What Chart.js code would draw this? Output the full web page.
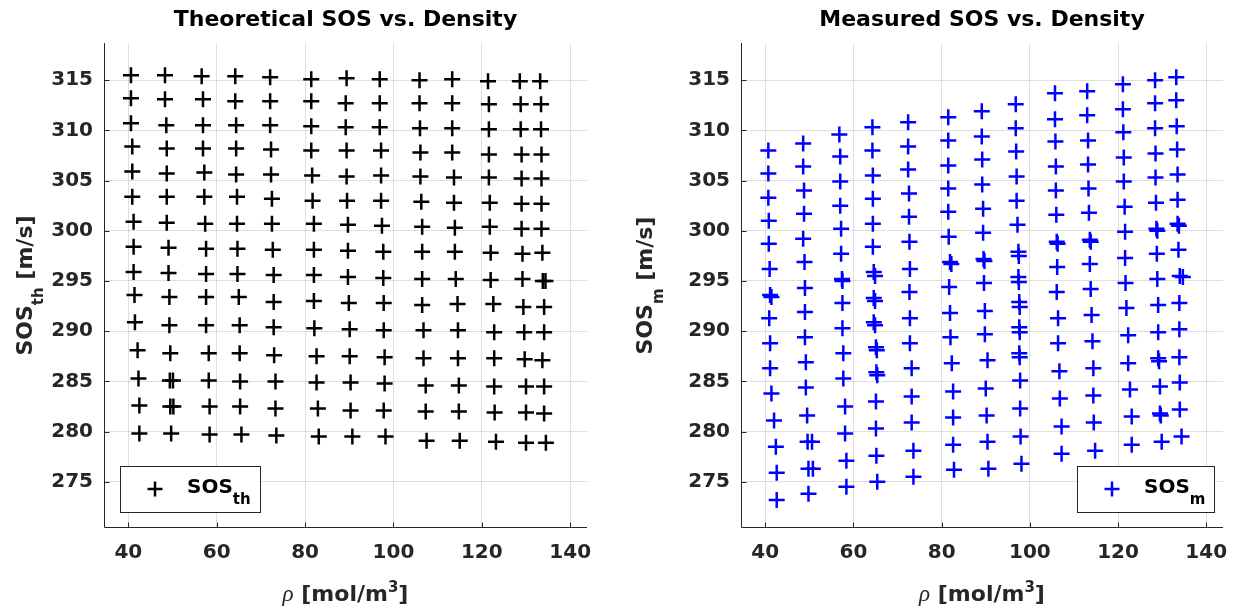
<!DOCTYPE html>
<html>
<head>
<meta charset="utf-8">
<title>SOS vs. Density</title>
<script src="https://cdn.jsdelivr.net/npm/chart.js@4.4.1/dist/chart.umd.min.js"></script>
<style>
  html, body { margin: 0; padding: 0; background: #ffffff; }
  #wrap { position: relative; width: 1239px; height: 610px; overflow: hidden; }
  canvas { position: absolute; top: 0; }
  #cTh { left: 0; }
  #cM { left: 620px; }
</style>
</head>
<body>
<div id="wrap">
  <canvas id="cTh" width="620" height="610"></canvas>
  <canvas id="cM" width="619" height="610"></canvas>
</div>
<script>
// ---- axis ticks ----
const rhoTicks = [40, 60, 80, 100, 120, 140];
const sosTicks = [275, 280, 285, 290, 295, 300, 305, 310, 315];

// ---- theoretical speed of sound: one row per temperature level ----
const thRho = [
  [40.6, 48.3, 56.6, 64.2, 72.1, 81.4, 89.4, 96.9, 105.9, 113.3, 121.4, 128.6, 133.2],
  [40.6, 48.3, 56.9, 64.2, 72.1, 81.4, 89.2, 96.9, 105.9, 113.3, 121.6, 128.8, 133.4],
  [40.6, 48.6, 56.9, 64.4, 72.1, 81.4, 89.2, 96.9, 106.0, 113.3, 121.6, 128.8, 133.4],
  [40.9, 48.7, 56.9, 64.4, 72.3, 81.4, 89.4, 97.2, 106.1, 113.3, 121.6, 129.0, 133.5],
  [40.9, 48.7, 57.2, 64.4, 72.3, 81.6, 89.4, 97.2, 106.1, 113.7, 121.6, 129.0, 133.5],
  [40.9, 48.7, 57.2, 64.6, 72.5, 81.7, 89.5, 97.2, 106.3, 113.7, 121.8, 129.0, 133.5],
  [41.2, 48.7, 57.4, 64.6, 72.5, 82.0, 89.7, 97.4, 106.5, 113.9, 121.8, 129.0, 133.5],
  [41.2, 49.1, 57.6, 64.7, 72.7, 82.0, 89.7, 97.7, 106.5, 113.9, 122.0, 129.2, 133.7],
  [41.2, 49.1, 57.6, 64.7, 72.9, 82.0, 89.7, 97.7, 106.5, 114.1, 122.0, 129.2, 133.8],
  [41.4, 49.3, 57.6, 65.0, 72.9, 82.0, 89.9, 97.8, 106.5, 114.5, 122.6, 129.4, 134.1],
  [41.5, 49.3, 57.6, 65.2, 72.9, 82.1, 90.1, 97.8, 106.8, 114.6, 122.8, 129.6, 134.1],
  [42.1, 49.5, 58.2, 65.2, 73.0, 82.6, 90.1, 98.0, 106.8, 114.6, 122.8, 129.7, 133.7],
  [42.3, 49.4, 58.2, 65.3, 73.3, 82.6, 90.3, 98.0, 107.3, 114.8, 122.8, 130.0, 134.1],
  [42.5, 49.5, 58.4, 65.3, 73.3, 82.9, 90.3, 97.8, 107.3, 114.8, 122.9, 130.0, 134.1],
  [42.5, 49.7, 58.4, 65.6, 73.5, 83.1, 90.7, 98.2, 107.5, 115.0, 123.2, 130.0, 134.5]
];
const thSos = [
  [315.5, 315.5, 315.4, 315.4, 315.3, 315.1, 315.2, 315.1, 315.0, 315.1, 314.9, 314.9, 314.9],
  [313.2, 313.1, 313.1, 312.9, 312.9, 312.9, 312.7, 312.7, 312.7, 312.7, 312.6, 312.6, 312.6],
  [310.7, 310.5, 310.5, 310.5, 310.5, 310.4, 310.3, 310.3, 310.2, 310.2, 310.1, 310.1, 310.1],
  [308.4, 308.2, 308.2, 308.2, 308.1, 308.0, 308.0, 308.0, 307.8, 307.8, 307.6, 307.6, 307.6],
  [305.9, 305.7, 305.8, 305.6, 305.6, 305.5, 305.4, 305.5, 305.4, 305.3, 305.3, 305.2, 305.2],
  [303.4, 303.4, 303.4, 303.4, 303.2, 303.0, 303.0, 303.0, 302.9, 302.8, 302.8, 302.7, 302.7],
  [300.9, 300.8, 300.7, 300.7, 300.7, 300.7, 300.6, 300.5, 300.4, 300.3, 300.4, 300.2, 300.2],
  [298.4, 298.3, 298.2, 298.2, 298.1, 298.1, 298.0, 297.9, 297.9, 297.9, 297.8, 297.7, 297.8],
  [295.9, 295.8, 295.7, 295.7, 295.6, 295.6, 295.4, 295.3, 295.2, 295.2, 295.1, 295.2, 295.0],
  [293.6, 293.4, 293.4, 293.4, 292.9, 293.0, 292.8, 292.8, 292.6, 292.7, 292.7, 292.4, 292.4],
  [290.9, 290.6, 290.6, 290.6, 290.4, 290.3, 290.2, 290.1, 290.1, 290.1, 289.9, 289.9, 289.9],
  [288.1, 287.8, 287.8, 287.8, 287.6, 287.5, 287.5, 287.4, 287.3, 287.3, 287.3, 287.2, 287.1],
  [285.3, 285.1, 285.1, 285.0, 285.0, 284.9, 284.9, 284.8, 284.6, 284.6, 284.5, 284.5, 284.5],
  [282.6, 282.5, 282.5, 282.5, 282.3, 282.3, 282.1, 282.1, 282.0, 282.0, 281.9, 281.9, 281.8],
  [279.8, 279.8, 279.7, 279.7, 279.6, 279.5, 279.5, 279.5, 279.1, 279.1, 279.0, 278.9, 278.9]
];
// repeated theoretical points
const thRhoExtra = [50.1, 50.2, 134.4];
const thSosExtra = [285.1, 282.5, 295.0];

// ---- measured speed of sound: one column per pressure level ----
const mRho = [
  [40.7, 40.7, 40.7, 40.8, 40.8, 41.0, 41.1, 40.9, 41.1, 41.1, 41.4, 42.0, 42.4, 42.6, 42.6],
  [48.6, 48.6, 48.8, 48.8, 48.6, 48.9, 49.0, 49.0, 49.0, 49.2, 49.2, 49.5, 49.6, 49.8, 49.8],
  [56.8, 57.0, 57.0, 57.0, 57.2, 57.2, 57.4, 57.5, 57.5, 57.7, 57.7, 58.1, 58.1, 58.4, 58.4],
  [64.3, 64.3, 64.4, 64.4, 64.4, 64.4, 64.6, 64.6, 64.6, 65.1, 65.2, 65.1, 65.1, 65.2, 65.4],
  [72.4, 72.4, 72.4, 72.6, 72.6, 72.7, 72.8, 72.7, 72.8, 72.8, 73.2, 73.2, 73.2, 73.6, 73.6],
  [81.5, 81.5, 81.5, 81.5, 81.5, 81.6, 81.9, 81.7, 81.9, 82.0, 82.3, 82.6, 82.6, 82.6, 82.8],
  [89.1, 89.1, 89.2, 89.2, 89.4, 89.4, 89.5, 89.6, 89.8, 89.8, 90.4, 90.0, 90.2, 90.4, 90.6],
  [96.8, 96.8, 96.9, 97.0, 97.0, 97.2, 97.4, 97.4, 97.6, 97.6, 97.6, 97.8, 97.8, 97.9, 98.1],
  [105.7, 105.7, 105.8, 105.9, 105.9, 106.0, 106.1, 106.2, 106.1, 106.4, 106.4, 106.7, 106.8, 107.2, 107.2],
  [113.0, 113.0, 113.2, 113.2, 113.3, 113.4, 113.6, 113.6, 113.8, 114.0, 114.2, 114.4, 114.4, 114.5, 114.8],
  [121.1, 121.1, 121.2, 121.3, 121.3, 121.5, 121.6, 121.6, 121.7, 121.9, 122.3, 122.3, 122.7, 123.1, 123.1],
  [128.4, 128.4, 128.4, 128.5, 128.5, 128.6, 128.7, 128.8, 128.9, 129.1, 129.1, 129.1, 129.5, 129.5, 129.9],
  [133.2, 133.2, 133.3, 133.4, 133.5, 133.5, 133.5, 133.7, 134.0, 133.9, 133.9, 133.9, 134.0, 134.0, 134.4]
];
const mSos = [
  [308.0, 305.7, 303.3, 301.0, 298.7, 296.2, 293.6, 291.3, 288.8, 286.3, 283.8, 281.1, 278.5, 275.9, 273.2],
  [308.7, 306.4, 304.0, 301.7, 299.2, 296.9, 294.3, 291.9, 289.4, 286.9, 284.4, 281.6, 279.0, 276.3, 273.8],
  [309.6, 307.4, 304.9, 302.5, 300.2, 297.7, 295.2, 292.8, 290.3, 287.8, 285.3, 282.5, 279.8, 277.1, 274.5],
  [310.3, 308.0, 305.5, 303.2, 300.7, 298.4, 295.9, 293.3, 290.9, 288.4, 285.9, 283.0, 280.3, 277.6, 275.0],
  [310.8, 308.4, 306.1, 303.7, 301.4, 298.9, 296.2, 293.9, 291.3, 288.8, 286.3, 283.5, 280.9, 278.1, 275.5],
  [311.3, 309.0, 306.5, 304.2, 301.9, 299.4, 296.9, 294.4, 291.8, 289.4, 286.8, 284.0, 281.4, 278.7, 276.2],
  [311.9, 309.4, 307.1, 304.6, 302.2, 299.8, 297.2, 294.8, 292.0, 289.7, 287.1, 284.3, 281.6, 279.0, 276.3],
  [312.6, 310.2, 307.9, 305.4, 303.0, 300.6, 297.9, 295.4, 292.9, 290.4, 287.8, 285.1, 282.3, 279.5, 276.8],
  [313.7, 311.1, 308.9, 306.4, 304.0, 301.6, 298.9, 296.4, 293.9, 291.3, 288.8, 286.0, 283.3, 280.5, 277.8],
  [313.9, 311.5, 309.0, 306.6, 304.2, 301.8, 299.1, 296.7, 294.2, 291.6, 289.0, 286.3, 283.6, 280.9, 278.1],
  [314.6, 312.1, 309.8, 307.3, 304.9, 302.4, 299.9, 297.3, 294.8, 292.3, 289.6, 286.8, 284.2, 281.5, 278.7],
  [315.0, 312.7, 310.2, 307.7, 305.3, 302.8, 300.2, 297.7, 295.2, 292.6, 289.9, 287.3, 284.5, 281.8, 279.0],
  [315.3, 313.0, 310.4, 308.1, 305.6, 303.1, 300.7, 298.1, 295.5, 292.8, 290.2, 287.4, 284.9, 282.2, 279.5]
];
// repeated measurements
const mRhoExtra = [41.4, 50.6, 50.8, 57.5, 64.9, 64.9, 64.9, 65.3, 65.4, 97.5, 97.5, 97.7, 97.7, 97.7,
                   128.9, 129.3, 129.7, 134.7, 133.8, 106.3, 113.8, 82.2, 89.7];
const mSosExtra = [293.4, 279.0, 276.3, 295.0, 295.5, 293.0, 290.6, 288.1, 285.6, 297.5, 294.9, 292.4, 289.9, 287.4,
                   300.0, 287.0, 281.6, 295.4, 300.5, 298.7, 298.9, 296.7, 297.0];

// ---- styling ----
const FAMILY = '"DejaVu Sans", sans-serif';
const INK = '#262626';
const GRID = 'rgba(38,38,38,0.15)';
const BOLD22 = 'bold 22px ' + FAMILY;
const BOLD20 = 'bold 20px ' + FAMILY;
const BOLD15 = 'bold 15px ' + FAMILY;
const RHO_FONT = 'italic 23px "Liberation Serif", "DejaVu Serif", serif';

function toPoints(xs, ys, xe, ye) {
  const pts = [];
  xs.forEach((row, i) => row.forEach((x, j) => pts.push({ x: x, y: ys[i][j] })));
  xe.forEach((x, i) => pts.push({ x: x, y: ye[i] }));
  return pts;
}

function richWidth(ctx, segs) {
  let w = 0;
  segs.forEach(s => { ctx.font = s.font; w += ctx.measureText(s.text).width; });
  return w;
}
function drawRich(ctx, segs, x, y) {
  segs.forEach(s => {
    ctx.font = s.font;
    ctx.fillText(s.text, x, y + (s.dy || 0));
    x += ctx.measureText(s.text).width;
  });
}
function crossAt(ctx, x, y, r) {
  ctx.beginPath();
  ctx.moveTo(x - r, y); ctx.lineTo(x + r, y);
  ctx.moveTo(x, y - r); ctx.lineTo(x, y + r);
  ctx.stroke();
}

// title over the plot area, axis lines with inward ticks, axis titles, boxed legend
const decor = {
  id: 'decor',
  beforeDatasetsDraw(chart, args, o) {
    const ctx = chart.ctx, a = chart.chartArea;
    const sx = chart.scales.x, sy = chart.scales.y;
    ctx.save();
    ctx.strokeStyle = INK;
    ctx.lineWidth = 1;
    const L = Math.round(a.left) + 0.5, B = Math.round(a.bottom) - 0.5;
    ctx.beginPath();
    ctx.moveTo(L, a.top); ctx.lineTo(L, B); ctx.lineTo(a.right, B);
    sx.ticks.forEach(t => {
      const px = Math.round(sx.getPixelForValue(t.value)) + 0.5;
      ctx.moveTo(px, B); ctx.lineTo(px, B - 5);
    });
    sy.ticks.forEach(t => {
      const py = Math.round(sy.getPixelForValue(t.value)) + 0.5;
      ctx.moveTo(L, py); ctx.lineTo(L + 5, py);
    });
    ctx.stroke();

    // plot title, centred on the axes
    ctx.fillStyle = '#000000';
    ctx.font = BOLD22;
    ctx.textAlign = 'center';
    ctx.textBaseline = 'middle';
    ctx.fillText(o.title, (a.left + a.right) / 2, 20.5);

    ctx.fillStyle = INK;
    ctx.textBaseline = 'alphabetic';
    ctx.textAlign = 'left';
    const wx = richWidth(ctx, o.xLabel);
    drawRich(ctx, o.xLabel, (a.left + a.right) / 2 - wx / 2, o.xBaseline);

    ctx.translate(o.yBaseline, (a.top + a.bottom) / 2);
    ctx.rotate(-Math.PI / 2);
    const wy = richWidth(ctx, o.yLabel);
    drawRich(ctx, o.yLabel, -wy / 2, 0);
    ctx.restore();
  },
  afterDatasetsDraw(chart, args, o) {
    const ctx = chart.ctx, a = chart.chartArea;
    const ds = chart.data.datasets[0];
    const parts = ds.label.split('_');
    const segs = [{ text: parts[0], font: BOLD20 }, { text: parts[1], font: BOLD15, dy: 11 }];
    ctx.save();
    const tw = richWidth(ctx, segs);
    const w = Math.round(67 + tw + 9), h = 46;
    const x0 = Math.round(o.corner === 'sw' ? a.left + 16 : a.right - 9 - w);
    const y0 = Math.round(a.bottom - 16 - h);
    ctx.fillStyle = '#ffffff';
    ctx.fillRect(x0, y0, w, h);
    ctx.strokeStyle = INK;
    ctx.lineWidth = 1;
    ctx.strokeRect(x0 + 0.5, y0 + 0.5, w, h);
    ctx.strokeStyle = ds.borderColor;
    ctx.lineWidth = ds.borderWidth;
    crossAt(ctx, x0 + 35, y0 + 23, 7.5);
    ctx.fillStyle = '#000000';
    ctx.textBaseline = 'alphabetic';
    drawRich(ctx, segs, x0 + 67, y0 + 27);
    ctx.restore();
  }
};

function makeChart(id, cfg) {
  const tickFont = { family: FAMILY, size: 20, weight: 'bold' };
  return new Chart(document.getElementById(id), {
    type: 'scatter',
    data: {
      datasets: [{
        label: cfg.label,
        data: cfg.points,
        pointStyle: 'cross',
        pointRadius: 8,
        pointHoverRadius: 8,
        borderColor: cfg.color,
        backgroundColor: cfg.color,
        borderWidth: 2.5,
        pointBorderWidth: 2.5
      }]
    },
    options: {
      responsive: false,
      animation: false,
      events: [],
      layout: { padding: { left: 0, right: cfg.padRight, top: 43, bottom: 0 } },
      plugins: {
        legend: { display: false },
        tooltip: { enabled: false },
        title: { display: false },
        decor: {
          title: cfg.title,
          corner: cfg.corner,
          xLabel: [
            { text: '\u03C1', font: RHO_FONT },
            { text: ' [mol/m', font: BOLD22 },
            { text: '3', font: BOLD15, dy: -9 },
            { text: ']', font: BOLD22 }
          ],
          xBaseline: 601,
          yLabel: [
            { text: 'SOS', font: BOLD22 },
            { text: cfg.sub, font: BOLD15, dy: 11 },
            { text: ' [m/s]', font: BOLD22 }
          ],
          yBaseline: 32
        }
      },
      scales: {
        x: {
          type: 'linear',
          min: 34.5,
          max: 143.8,
          afterBuildTicks: s => { s.ticks = rhoTicks.map(v => ({ value: v })); },
          afterFit: s => { s.height = 82; s.paddingLeft = 0; s.paddingRight = 0; },
          grid: { color: GRID, lineWidth: 1, drawTicks: false },
          border: { display: false },
          ticks: { color: INK, font: tickFont, padding: 13, maxRotation: 0, autoSkip: false }
        },
        y: {
          type: 'linear',
          min: 270.4,
          max: 318.7,
          afterBuildTicks: s => { s.ticks = sosTicks.map(v => ({ value: v })); },
          afterFit: s => { s.width = cfg.yWidth; s.paddingTop = 0; s.paddingBottom = 0; },
          grid: { color: GRID, lineWidth: 1, drawTicks: false },
          border: { display: false },
          ticks: { color: INK, font: tickFont, padding: 11, autoSkip: false }
        }
      }
    },
    plugins: [decor]
  });
}

makeChart('cTh', {
  title: 'Theoretical SOS vs. Density',
  label: 'SOS_th',
  sub: 'th',
  color: '#000000',
  points: toPoints(thRho, thSos, thRhoExtra, thSosExtra),
  yWidth: 104,
  padRight: 33,
  corner: 'sw'
});

makeChart('cM', {
  title: 'Measured SOS vs. Density',
  label: 'SOS_m',
  sub: 'm',
  color: '#0000ff',
  points: toPoints(mRho, mSos, mRhoExtra, mSosExtra),
  yWidth: 121,
  padRight: 16,
  corner: 'se'
});
</script>
</body>
</html>
